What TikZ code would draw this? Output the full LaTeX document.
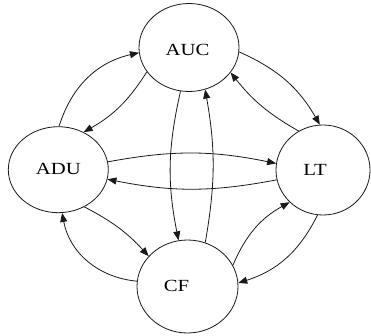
\documentclass[tikz,border=0pt]{standalone}
\usepackage{fontspec}
\setmainfont{Liberation Serif}
\usetikzlibrary{arrows.meta,shapes.geometric}
\begin{document}
\begin{tikzpicture}[x=1pt,y=1pt,
  state/.style={draw=black!90, ellipse, inner sep=0pt, line width=0.8pt},
  lbl/.style={font=\fontsize{17}{20}\selectfont, inner sep=0pt},
  edge/.style={draw=black!90, line width=0.8pt, -{Triangle[length=9pt,width=7pt]}}]
\useasboundingbox (0,0) rectangle (371,335);
\node[state, minimum width=100pt, minimum height=88pt,
  label={[lbl,xshift=-1.5pt,yshift=-2.5pt]center:\scalebox{1.22}[1]{AUC}}] (auc) at (189,287.5) {};
\node[state, minimum width=100pt, minimum height=86pt,
  label={[lbl,yshift=0.5pt]center:\scalebox{1.22}[1]{ADU}}] (adu) at (58.3,165.3) {};
\node[state, minimum width=94pt, minimum height=90pt,
  label={[lbl,xshift=-8pt]center:\scalebox{1.22}[1]{LT}}] (lt) at (323,165) {};
\node[state, minimum width=101pt, minimum height=93pt,
  label={[lbl,xshift=-11pt,yshift=1pt]center:\scalebox{1.22}[1]{CF}}] (cf) at (187.5,48.5) {};
\draw[edge] (adu.89) to[bend left=30] (auc.186);
\draw[edge] (auc.210) to[bend left=14] (adu.56);
\draw[edge] (auc.355) to[bend left=18] (lt.94);
\draw[edge] (lt.122) to[bend left=11] (auc.329);
\draw[edge] (auc.259) to[bend right=12] (cf.101);
\draw[edge] (cf.68) to[bend right=10] (auc.291);
\draw[edge] (adu.9) to[bend left=11] (lt.172);
\draw[edge] (lt.192) to[bend left=11] (adu.349);
\draw[edge] (adu.305) to[bend left=10] (cf.142);
\draw[edge] (cf.174) to[bend left=37] (adu.275);
\draw[edge] (cf.25) to[bend left=19] (lt.224);
\draw[edge] (lt.263) to[bend left=23] (cf.4);
\end{tikzpicture}
\end{document}
